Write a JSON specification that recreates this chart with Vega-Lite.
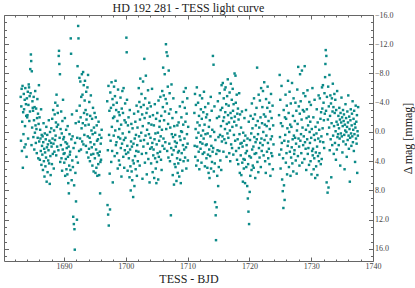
{
"$schema":"https://vega.github.io/schema/vega-lite/v6.json",
"width":369,"height":246,
"autosize":{"type":"none"},
"padding":{"left":4,"top":15,"right":42,"bottom":27},
"title":{"text":"HD 192 281 - TESS light curve","font":"Liberation Serif","fontSize":12,"fontWeight":"normal","color":"#222","offset":-4},
"config":{"view":{"stroke":"#666","strokeWidth":1},"axis":{"grid":false,"domain":false,"labelFont":"Liberation Serif","titleFont":"Liberation Serif","labelFontSize":8,"titleFontSize":12,"titleFontWeight":"normal","tickColor":"#666","labelColor":"#444","titleColor":"#222"}},
"resolve":{"axis":{"x":"independent","y":"independent"}},
"layer":[
{"data":{"values":[
{"t":1683.00,"m":-4.8},{"t":1683.05,"m":1.2},{"t":1683.10,"m":-3.5},{"t":1683.15,"m":-5.9},{"t":1683.20,"m":2.6},{"t":1683.25,"m":-1.4},{"t":1683.30,"m":-6.3},{"t":1683.35,"m":4.9},{"t":1683.40,"m":-2.7},{"t":1683.45,"m":0.3},
{"t":1683.50,"m":-5.2},{"t":1683.55,"m":-3.1},{"t":1683.60,"m":2.1},{"t":1683.65,"m":-4.4},{"t":1683.70,"m":-0.8},{"t":1683.75,"m":-6.0},{"t":1683.80,"m":1.7},{"t":1683.85,"m":-3.8},{"t":1683.90,"m":-2.2},{"t":1683.95,"m":3.4},
{"t":1684.00,"m":-4.6},{"t":1684.05,"m":-2.0},{"t":1684.10,"m":-2.3},{"t":1684.15,"m":-5.5},{"t":1684.20,"m":0.9},{"t":1684.25,"m":-3.7},{"t":1684.30,"m":-6.5},{"t":1684.35,"m":-6.1},{"t":1684.40,"m":-1.5},{"t":1684.45,"m":-4.9},
{"t":1684.50,"m":-2.8},{"t":1684.55,"m":-8.6},{"t":1684.60,"m":-5.3},{"t":1684.65,"m":-10.6},{"t":1684.70,"m":-9.7},{"t":1684.75,"m":1.8},{"t":1684.80,"m":-8.3},{"t":1684.85,"m":-0.6},{"t":1684.90,"m":-4.2},{"t":1684.95,"m":-3.3},
{"t":1685.00,"m":-2.9},{"t":1685.05,"m":0.7},{"t":1685.10,"m":-4.8},{"t":1685.15,"m":-1.6},{"t":1685.20,"m":2.4},{"t":1685.25,"m":-3.4},{"t":1685.30,"m":0.1},{"t":1685.35,"m":-5.6},{"t":1685.40,"m":-0.9},{"t":1685.45,"m":1.5},
{"t":1685.50,"m":-3.2},{"t":1685.55,"m":-0.4},{"t":1685.60,"m":2.9},{"t":1685.65,"m":-1.9},{"t":1685.70,"m":-4.5},{"t":1685.75,"m":0.8},{"t":1685.80,"m":-2.5},{"t":1685.85,"m":3.6},{"t":1685.90,"m":-1.1},{"t":1685.95,"m":-6.4},
{"t":1686.00,"m":1.3},{"t":1686.05,"m":-2.0},{"t":1686.10,"m":3.8},{"t":1686.15,"m":-0.3},{"t":1686.20,"m":0.9},{"t":1686.25,"m":2.6},{"t":1686.30,"m":-3.1},{"t":1686.35,"m":4.5},{"t":1686.40,"m":0.4},{"t":1686.45,"m":1.9},
{"t":1686.50,"m":3.1},{"t":1686.55,"m":0.6},{"t":1686.60,"m":5.2},{"t":1686.65,"m":1.4},{"t":1686.70,"m":-1.2},{"t":1686.75,"m":4.0},{"t":1686.80,"m":2.3},{"t":1686.85,"m":6.1},{"t":1686.90,"m":0.2},{"t":1686.95,"m":2.8},
{"t":1687.00,"m":4.7},{"t":1687.05,"m":1.0},{"t":1687.10,"m":3.5},{"t":1687.15,"m":-0.7},{"t":1687.20,"m":6.8},{"t":1687.25,"m":2.1},{"t":1687.30,"m":0.4},{"t":1687.35,"m":5.5},{"t":1687.40,"m":1.7},{"t":1687.45,"m":3.9},
{"t":1687.50,"m":2.5},{"t":1687.55,"m":-1.6},{"t":1687.60,"m":4.3},{"t":1687.65,"m":1.2},{"t":1687.70,"m":7.1},{"t":1687.75,"m":0.0},{"t":1687.80,"m":3.3},{"t":1687.85,"m":5.9},{"t":1687.90,"m":1.5},{"t":1687.95,"m":-0.5},
{"t":1688.00,"m":2.0},{"t":1688.05,"m":4.4},{"t":1688.10,"m":-1.8},{"t":1688.15,"m":0.9},{"t":1688.20,"m":3.0},{"t":1688.25,"m":-3.0},{"t":1688.30,"m":1.6},{"t":1688.35,"m":5.0},{"t":1688.40,"m":-0.2},{"t":1688.45,"m":2.7},
{"t":1688.50,"m":-2.4},{"t":1688.55,"m":1.1},{"t":1688.60,"m":-4.0},{"t":1688.65,"m":0.5},{"t":1688.70,"m":-1.3},{"t":1688.75,"m":3.2},{"t":1688.80,"m":-5.1},{"t":1688.85,"m":-0.7},{"t":1688.90,"m":2.0},{"t":1688.95,"m":-3.6},
{"t":1689.00,"m":-2.6},{"t":1689.05,"m":-1.0},{"t":1689.10,"m":2.5},{"t":1689.15,"m":-10.4},{"t":1689.20,"m":-11.1},{"t":1689.25,"m":-9.3},{"t":1689.30,"m":0.8},{"t":1689.35,"m":-7.9},{"t":1689.40,"m":4.1},{"t":1689.45,"m":-0.4},
{"t":1689.50,"m":1.8},{"t":1689.55,"m":-2.8},{"t":1689.60,"m":3.6},{"t":1689.65,"m":0.2},{"t":1689.70,"m":5.3},{"t":1689.75,"m":-1.5},{"t":1689.80,"m":2.4},{"t":1689.85,"m":-4.4},{"t":1689.90,"m":1.0},{"t":1689.95,"m":3.0},
{"t":1690.00,"m":0.7},{"t":1690.05,"m":4.2},{"t":1690.10,"m":2.9},{"t":1690.15,"m":-1.9},{"t":1690.20,"m":6.0},{"t":1690.25,"m":1.4},{"t":1690.30,"m":3.7},{"t":1690.35,"m":-0.3},{"t":1690.40,"m":5.1},{"t":1690.45,"m":2.2},
{"t":1690.50,"m":1.6},{"t":1690.55,"m":5.8},{"t":1690.60,"m":-0.8},{"t":1690.65,"m":3.4},{"t":1690.70,"m":7.0},{"t":1690.75,"m":2.0},{"t":1690.80,"m":8.4},{"t":1690.85,"m":4.6},{"t":1690.90,"m":0.3},{"t":1690.95,"m":3.1},
{"t":1691.00,"m":2.7},{"t":1691.05,"m":5.2},{"t":1691.10,"m":-12.8},{"t":1691.15,"m":-10.7},{"t":1691.20,"m":1.0},{"t":1691.25,"m":6.6},{"t":1691.30,"m":-2.4},{"t":1691.35,"m":3.9},{"t":1691.40,"m":0.6},{"t":1691.45,"m":4.8},
{"t":1691.50,"m":11.6},{"t":1691.55,"m":2.2},{"t":1691.60,"m":12.6},{"t":1691.65,"m":7.3},{"t":1691.70,"m":13.3},{"t":1691.75,"m":16.1},{"t":1691.80,"m":1.5},{"t":1691.85,"m":5.6},{"t":1691.90,"m":-1.2},{"t":1691.95,"m":9.5},
{"t":1692.00,"m":3.4},{"t":1692.05,"m":-2.9},{"t":1692.10,"m":12.0},{"t":1692.15,"m":0.8},{"t":1692.20,"m":-9.0},{"t":1692.25,"m":4.2},{"t":1692.30,"m":-14.5},{"t":1692.35,"m":-12.8},{"t":1692.40,"m":-1.4},{"t":1692.45,"m":2.6},
{"t":1692.50,"m":-7.4},{"t":1692.55,"m":-3.6},{"t":1692.60,"m":0.9},{"t":1692.65,"m":-6.9},{"t":1692.70,"m":-2.0},{"t":1692.75,"m":2.4},{"t":1692.80,"m":-4.8},{"t":1692.85,"m":-0.5},{"t":1692.90,"m":-7.9},{"t":1692.95,"m":1.3},
{"t":1693.00,"m":-5.1},{"t":1693.05,"m":-1.2},{"t":1693.10,"m":-8.2},{"t":1693.15,"m":1.7},{"t":1693.20,"m":-6.4},{"t":1693.25,"m":-2.6},{"t":1693.30,"m":0.4},{"t":1693.35,"m":-4.3},{"t":1693.40,"m":-7.0},{"t":1693.45,"m":-0.9},
{"t":1693.50,"m":-3.0},{"t":1693.55,"m":1.9},{"t":1693.60,"m":-5.5},{"t":1693.65,"m":-1.7},{"t":1693.70,"m":2.8},{"t":1693.75,"m":-2.4},{"t":1693.80,"m":-6.1},{"t":1693.85,"m":0.6},{"t":1693.90,"m":-7.8},{"t":1693.95,"m":3.5},
{"t":1694.00,"m":-1.0},{"t":1694.05,"m":2.3},{"t":1694.10,"m":-4.1},{"t":1694.15,"m":0.8},{"t":1694.20,"m":4.0},{"t":1694.25,"m":-2.2},{"t":1694.30,"m":1.4},{"t":1694.35,"m":-5.0},{"t":1694.40,"m":3.1},{"t":1694.45,"m":-0.2},
{"t":1694.50,"m":2.1},{"t":1694.55,"m":-1.8},{"t":1694.60,"m":4.6},{"t":1694.65,"m":0.3},{"t":1694.70,"m":-3.3},{"t":1694.75,"m":3.0},{"t":1694.80,"m":5.4},{"t":1694.85,"m":-0.6},{"t":1694.90,"m":1.7},{"t":1694.95,"m":-2.6},
{"t":1695.00,"m":3.6},{"t":1695.05,"m":0.1},{"t":1695.10,"m":5.6},{"t":1695.15,"m":-2.0},{"t":1695.20,"m":2.4},{"t":1695.25,"m":4.9},{"t":1695.30,"m":-0.9},{"t":1695.35,"m":1.2},{"t":1695.40,"m":6.0},{"t":1695.45,"m":2.9},
{"t":1695.50,"m":1.0},{"t":1695.55,"m":4.4},{"t":1695.60,"m":-1.4},{"t":1695.65,"m":3.2},{"t":1695.70,"m":5.9},{"t":1695.75,"m":0.4},{"t":1695.80,"m":2.7},{"t":1695.85,"m":8.4},{"t":1695.90,"m":4.1},{"t":1695.95,"m":1.6},{"t":1696.00,"m":3.8},{"t":1696.05,"m":0.8},{"t":1696.10,"m":-0.3},
{"t":1697.00,"m":-4.2},{"t":1697.05,"m":10.0},{"t":1697.10,"m":2.5},{"t":1697.15,"m":11.3},{"t":1697.20,"m":-6.3},{"t":1697.25,"m":12.8},{"t":1697.30,"m":0.4},{"t":1697.35,"m":-2.9},{"t":1697.40,"m":5.7},{"t":1697.45,"m":10.6},
{"t":1697.50,"m":-5.4},{"t":1697.55,"m":1.2},{"t":1697.60,"m":-3.3},{"t":1697.65,"m":4.1},{"t":1697.70,"m":-6.8},{"t":1697.75,"m":-0.7},{"t":1697.80,"m":2.6},{"t":1697.85,"m":-4.5},{"t":1697.90,"m":6.9},{"t":1697.95,"m":-1.9},
{"t":1698.00,"m":-3.7},{"t":1698.05,"m":0.5},{"t":1698.10,"m":-6.2},{"t":1698.15,"m":-2.1},{"t":1698.20,"m":3.3},{"t":1698.25,"m":-4.9},{"t":1698.30,"m":-0.2},{"t":1698.35,"m":-7.0},{"t":1698.40,"m":1.8},{"t":1698.45,"m":-3.0},
{"t":1698.50,"m":1.4},{"t":1698.55,"m":-4.0},{"t":1698.60,"m":2.9},{"t":1698.65,"m":-1.5},{"t":1698.70,"m":5.0},{"t":1698.75,"m":-5.8},{"t":1698.80,"m":0.7},{"t":1698.85,"m":-2.7},{"t":1698.90,"m":3.9},{"t":1698.95,"m":-0.4},
{"t":1699.00,"m":-2.3},{"t":1699.05,"m":4.5},{"t":1699.10,"m":0.9},{"t":1699.15,"m":-4.7},{"t":1699.20,"m":2.2},{"t":1699.25,"m":-1.0},{"t":1699.30,"m":6.1},{"t":1699.35,"m":-3.2},{"t":1699.40,"m":1.6},{"t":1699.45,"m":-5.6},
{"t":1699.50,"m":0.2},{"t":1699.55,"m":-2.6},{"t":1699.60,"m":3.4},{"t":1699.65,"m":-6.0},{"t":1699.70,"m":1.1},{"t":1699.75,"m":4.9},{"t":1699.80,"m":-1.6},{"t":1699.85,"m":2.5},{"t":1699.90,"m":-3.9},{"t":1699.95,"m":0.8},
{"t":1700.00,"m":-1.3},{"t":1700.05,"m":3.0},{"t":1700.10,"m":-12.9},{"t":1700.15,"m":-10.9},{"t":1700.20,"m":-4.4},{"t":1700.25,"m":1.9},{"t":1700.30,"m":5.3},{"t":1700.35,"m":-0.9},{"t":1700.40,"m":2.8},{"t":1700.45,"m":-2.0},
{"t":1700.50,"m":3.6},{"t":1700.55,"m":0.0},{"t":1700.60,"m":6.2},{"t":1700.65,"m":-3.0},{"t":1700.70,"m":2.4},{"t":1700.75,"m":4.7},{"t":1700.80,"m":8.0},{"t":1700.85,"m":1.3},{"t":1700.90,"m":-1.1},{"t":1700.95,"m":5.4},
{"t":1701.00,"m":2.0},{"t":1701.05,"m":6.6},{"t":1701.10,"m":-0.5},{"t":1701.15,"m":3.9},{"t":1701.20,"m":8.9},{"t":1701.25,"m":1.6},{"t":1701.30,"m":4.3},{"t":1701.35,"m":-2.5},{"t":1701.40,"m":7.4},{"t":1701.45,"m":0.9},
{"t":1701.50,"m":3.3},{"t":1701.55,"m":-1.4},{"t":1701.60,"m":5.1},{"t":1701.65,"m":0.4},{"t":1701.70,"m":2.6},{"t":1701.75,"m":-3.6},{"t":1701.80,"m":6.0},{"t":1701.85,"m":1.8},{"t":1701.90,"m":-0.6},{"t":1701.95,"m":4.0},
{"t":1702.00,"m":-2.8},{"t":1702.05,"m":2.7},{"t":1702.10,"m":-6.0},{"t":1702.15,"m":0.6},{"t":1702.20,"m":-4.1},{"t":1702.25,"m":4.6},{"t":1702.30,"m":-1.7},{"t":1702.35,"m":-7.3},{"t":1702.40,"m":1.2},{"t":1702.45,"m":-3.4},
{"t":1702.50,"m":0.1},{"t":1702.55,"m":-5.2},{"t":1702.60,"m":3.0},{"t":1702.65,"m":-2.4},{"t":1702.70,"m":6.4},{"t":1702.75,"m":-0.8},{"t":1702.80,"m":-6.9},{"t":1702.85,"m":2.0},{"t":1702.90,"m":-3.7},{"t":1702.95,"m":1.1},
{"t":1703.00,"m":-10.0},{"t":1703.05,"m":-1.9},{"t":1703.10,"m":4.2},{"t":1703.15,"m":-4.6},{"t":1703.20,"m":0.5},{"t":1703.25,"m":-7.7},{"t":1703.30,"m":2.9},{"t":1703.35,"m":-2.6},{"t":1703.40,"m":5.8},{"t":1703.45,"m":-0.3},
{"t":1703.50,"m":-3.2},{"t":1703.55,"m":1.6},{"t":1703.60,"m":-5.7},{"t":1703.65,"m":3.7},{"t":1703.70,"m":-1.2},{"t":1703.75,"m":0.3},{"t":1703.80,"m":-4.0},{"t":1703.85,"m":6.9},{"t":1703.90,"m":-2.1},{"t":1703.95,"m":2.3},
{"t":1704.00,"m":0.8},{"t":1704.05,"m":-3.5},{"t":1704.10,"m":4.3},{"t":1704.15,"m":-1.0},{"t":1704.20,"m":2.1},{"t":1704.25,"m":-5.9},{"t":1704.30,"m":1.5},{"t":1704.35,"m":5.5},{"t":1704.40,"m":-2.3},{"t":1704.45,"m":3.2},
{"t":1704.50,"m":2.4},{"t":1704.55,"m":-0.9},{"t":1704.60,"m":6.3},{"t":1704.65,"m":1.0},{"t":1704.70,"m":-3.8},{"t":1704.75,"m":3.6},{"t":1704.80,"m":0.2},{"t":1704.85,"m":5.0},{"t":1704.90,"m":-1.8},{"t":1704.95,"m":7.0},
{"t":1705.00,"m":1.7},{"t":1705.05,"m":4.1},{"t":1705.10,"m":-2.6},{"t":1705.15,"m":2.9},{"t":1705.20,"m":0.1},{"t":1705.25,"m":6.5},{"t":1705.30,"m":-4.3},{"t":1705.35,"m":3.4},{"t":1705.40,"m":1.2},{"t":1705.45,"m":-0.7},
{"t":1705.50,"m":-1.5},{"t":1705.55,"m":2.7},{"t":1705.60,"m":-4.8},{"t":1705.65,"m":0.6},{"t":1705.70,"m":3.8},{"t":1705.75,"m":-2.2},{"t":1705.80,"m":5.2},{"t":1705.85,"m":-0.3},{"t":1705.90,"m":-5.6},{"t":1705.95,"m":1.9},
{"t":1706.00,"m":-3.4},{"t":1706.05,"m":-8.8},{"t":1706.10,"m":0.9},{"t":1706.15,"m":-5.0},{"t":1706.20,"m":-1.6},{"t":1706.25,"m":2.3},{"t":1706.30,"m":-7.9},{"t":1706.35,"m":-2.8},{"t":1706.40,"m":1.4},{"t":1706.45,"m":-4.5},
{"t":1706.50,"m":-12.0},{"t":1706.55,"m":-0.4},{"t":1706.60,"m":-10.9},{"t":1706.65,"m":-3.9},{"t":1706.70,"m":2.6},{"t":1706.75,"m":-10.4},{"t":1706.80,"m":-6.2},{"t":1706.85,"m":-1.1},{"t":1706.90,"m":3.5},{"t":1706.95,"m":-8.4},
{"t":1707.00,"m":-2.5},{"t":1707.05,"m":1.6},{"t":1707.10,"m":-5.3},{"t":1707.15,"m":4.0},{"t":1707.20,"m":-0.6},{"t":1707.25,"m":-3.1},{"t":1707.30,"m":11.4},{"t":1707.35,"m":2.2},{"t":1707.40,"m":-6.5},{"t":1707.45,"m":0.3},
{"t":1707.50,"m":3.1},{"t":1707.55,"m":-1.9},{"t":1707.60,"m":5.9},{"t":1707.65,"m":0.7},{"t":1707.70,"m":-4.6},{"t":1707.75,"m":2.5},{"t":1707.80,"m":7.2},{"t":1707.85,"m":-0.8},{"t":1707.90,"m":4.4},{"t":1707.95,"m":1.3},
{"t":1708.00,"m":0.4},{"t":1708.05,"m":4.8},{"t":1708.10,"m":2.0},{"t":1708.15,"m":-2.7},{"t":1708.20,"m":6.7},{"t":1708.25,"m":1.5},{"t":1708.30,"m":3.6},{"t":1708.35,"m":-0.9},{"t":1708.40,"m":5.6},{"t":1708.45,"m":2.8},
{"t":1708.50,"m":4.3},{"t":1708.55,"m":-1.3},{"t":1708.60,"m":2.6},{"t":1708.65,"m":6.1},{"t":1708.70,"m":0.6},{"t":1708.75,"m":-3.5},{"t":1708.80,"m":3.8},{"t":1708.85,"m":1.1},{"t":1708.90,"m":7.0},{"t":1708.95,"m":-0.1},
{"t":1709.00,"m":-2.0},{"t":1709.05,"m":2.9},{"t":1709.10,"m":0.0},{"t":1709.15,"m":5.3},{"t":1709.20,"m":-4.1},{"t":1709.25,"m":1.8},{"t":1709.30,"m":-1.0},{"t":1709.35,"m":4.0},{"t":1709.40,"m":-5.5},{"t":1709.45,"m":2.4},
{"t":1709.50,"m":0.9},{"t":1709.55,"m":-3.3},{"t":1709.60,"m":3.5},{"t":1709.65,"m":-1.4},{"t":1709.70,"m":-6.0},{"t":1709.75,"m":2.1},{"t":1709.80,"m":5.0},{"t":1709.85,"m":-2.5},{"t":1709.90,"m":0.3},{"t":1709.95,"m":-4.6},{"t":1710.00,"m":1.6},{"t":1710.05,"m":3.9},{"t":1710.10,"m":-0.7},
{"t":1711.10,"m":-2.6},{"t":1711.15,"m":1.9},{"t":1711.20,"m":-5.2},{"t":1711.25,"m":3.4},{"t":1711.30,"m":-0.4},{"t":1711.35,"m":-3.7},{"t":1711.40,"m":4.6},{"t":1711.45,"m":0.8},{"t":1711.50,"m":-6.1},{"t":1711.55,"m":2.0},
{"t":1711.60,"m":-1.3},{"t":1711.65,"m":3.9},{"t":1711.70,"m":-4.0},{"t":1711.75,"m":0.1},{"t":1711.80,"m":2.7},{"t":1711.85,"m":-2.2},{"t":1711.90,"m":5.1},{"t":1711.95,"m":-0.9},{"t":1712.00,"m":-5.0},{"t":1712.05,"m":1.4},
{"t":1712.10,"m":2.3},{"t":1712.15,"m":-3.1},{"t":1712.20,"m":0.5},{"t":1712.25,"m":4.2},{"t":1712.30,"m":-1.8},{"t":1712.35,"m":-4.6},{"t":1712.40,"m":1.6},{"t":1712.45,"m":3.0},{"t":1712.50,"m":-0.2},{"t":1712.55,"m":-2.7},
{"t":1712.60,"m":0.9},{"t":1712.65,"m":-5.5},{"t":1712.70,"m":2.8},{"t":1712.75,"m":-1.0},{"t":1712.80,"m":4.7},{"t":1712.85,"m":-3.4},{"t":1712.90,"m":0.3},{"t":1712.95,"m":1.8},{"t":1713.00,"m":-2.0},{"t":1713.05,"m":3.6},
{"t":1713.10,"m":1.7},{"t":1713.15,"m":-2.4},{"t":1713.20,"m":4.9},{"t":1713.25,"m":0.2},{"t":1713.30,"m":3.1},{"t":1713.35,"m":-3.9},{"t":1713.40,"m":5.6},{"t":1713.45,"m":-0.7},{"t":1713.50,"m":2.4},{"t":1713.55,"m":6.3},
{"t":1713.60,"m":-1.6},{"t":1713.65,"m":3.3},{"t":1713.70,"m":0.6},{"t":1713.75,"m":-4.8},{"t":1713.80,"m":5.0},{"t":1713.85,"m":1.9},{"t":1713.90,"m":-2.9},{"t":1713.95,"m":4.1},{"t":1714.00,"m":-0.3},{"t":1714.05,"m":2.7},
{"t":1714.10,"m":-10.4},{"t":1714.15,"m":2.2},{"t":1714.20,"m":-9.2},{"t":1714.25,"m":5.4},{"t":1714.30,"m":0.0},{"t":1714.35,"m":-3.5},{"t":1714.40,"m":4.3},{"t":1714.45,"m":9.6},{"t":1714.50,"m":1.1},{"t":1714.55,"m":11.4},
{"t":1714.60,"m":14.8},{"t":1714.65,"m":3.0},{"t":1714.70,"m":10.3},{"t":1714.75,"m":-1.9},{"t":1714.80,"m":6.0},{"t":1714.85,"m":2.5},{"t":1714.90,"m":-4.2},{"t":1714.95,"m":7.4},{"t":1715.00,"m":0.7},{"t":1715.05,"m":4.8},
{"t":1715.10,"m":-2.1},{"t":1715.15,"m":2.6},{"t":1715.20,"m":-5.3},{"t":1715.25,"m":0.4},{"t":1715.30,"m":3.9},{"t":1715.35,"m":-3.0},{"t":1715.40,"m":-0.8},{"t":1715.45,"m":5.2},{"t":1715.50,"m":-6.4},{"t":1715.55,"m":1.3},
{"t":1715.60,"m":-3.3},{"t":1715.65,"m":0.6},{"t":1715.70,"m":-6.7},{"t":1715.75,"m":-1.5},{"t":1715.80,"m":2.7},{"t":1715.85,"m":-4.6},{"t":1715.90,"m":-2.0},{"t":1715.95,"m":1.0},{"t":1716.00,"m":-5.8},{"t":1716.05,"m":-0.4},
{"t":1716.10,"m":-2.7},{"t":1716.15,"m":-6.1},{"t":1716.20,"m":1.5},{"t":1716.25,"m":-3.8},{"t":1716.30,"m":3.4},{"t":1716.35,"m":-1.1},{"t":1716.40,"m":-4.9},{"t":1716.45,"m":0.2},{"t":1716.50,"m":-7.2},{"t":1716.55,"m":-2.3},
{"t":1716.60,"m":0.8},{"t":1716.65,"m":-3.6},{"t":1716.70,"m":-1.3},{"t":1716.75,"m":2.9},{"t":1716.80,"m":-5.4},{"t":1716.85,"m":-0.2},{"t":1716.90,"m":4.0},{"t":1716.95,"m":-2.6},{"t":1717.00,"m":-6.6},{"t":1717.05,"m":1.7},
{"t":1717.10,"m":-1.9},{"t":1717.15,"m":-4.4},{"t":1717.20,"m":2.2},{"t":1717.25,"m":-0.7},{"t":1717.30,"m":-5.9},{"t":1717.35,"m":-2.9},{"t":1717.40,"m":3.1},{"t":1717.45,"m":-3.8},{"t":1717.50,"m":0.4},{"t":1717.55,"m":-1.4},
{"t":1717.60,"m":-8.0},{"t":1717.65,"m":-2.1},{"t":1717.70,"m":1.2},{"t":1717.75,"m":-7.7},{"t":1717.80,"m":-4.0},{"t":1717.85,"m":2.6},{"t":1717.90,"m":-0.9},{"t":1717.95,"m":-5.1},{"t":1718.00,"m":3.8},{"t":1718.05,"m":-2.5},
{"t":1718.10,"m":1.0},{"t":1718.15,"m":-3.2},{"t":1718.20,"m":4.4},{"t":1718.25,"m":-1.7},{"t":1718.30,"m":2.2},{"t":1718.35,"m":-5.3},{"t":1718.40,"m":0.3},{"t":1718.45,"m":5.6},{"t":1718.50,"m":-2.4},{"t":1718.55,"m":1.6},
{"t":1718.60,"m":3.2},{"t":1718.65,"m":-0.6},{"t":1718.70,"m":5.9},{"t":1718.75,"m":1.5},{"t":1718.80,"m":-2.8},{"t":1718.85,"m":4.2},{"t":1718.90,"m":2.0},{"t":1718.95,"m":6.8},{"t":1719.00,"m":0.1},{"t":1719.05,"m":3.7},
{"t":1719.10,"m":5.0},{"t":1719.15,"m":1.2},{"t":1719.20,"m":-1.9},{"t":1719.25,"m":3.8},{"t":1719.30,"m":7.0},{"t":1719.35,"m":0.5},{"t":1719.40,"m":2.9},{"t":1719.45,"m":-3.0},{"t":1719.50,"m":4.8},{"t":1719.55,"m":1.8},
{"t":1719.60,"m":2.6},{"t":1719.65,"m":7.4},{"t":1719.70,"m":0.9},{"t":1719.75,"m":9.1},{"t":1719.80,"m":4.4},{"t":1719.85,"m":10.9},{"t":1719.90,"m":-1.4},{"t":1719.95,"m":12.6},{"t":1720.00,"m":3.3},{"t":1720.05,"m":8.2},
{"t":1720.10,"m":1.1},{"t":1720.15,"m":6.0},{"t":1720.20,"m":-2.2},{"t":1720.25,"m":3.5},{"t":1720.30,"m":0.2},{"t":1720.35,"m":5.2},{"t":1720.40,"m":-3.9},{"t":1720.45,"m":2.4},{"t":1720.50,"m":-0.5},{"t":1720.55,"m":4.6},
{"t":1720.60,"m":-1.8},{"t":1720.65,"m":2.0},{"t":1720.70,"m":4.9},{"t":1720.75,"m":-4.6},{"t":1720.80,"m":0.7},{"t":1720.85,"m":3.0},{"t":1720.90,"m":-2.4},{"t":1720.95,"m":6.3},{"t":1721.00,"m":1.4},{"t":1721.05,"m":-0.9},
{"t":1721.10,"m":2.9},{"t":1721.15,"m":-3.3},{"t":1721.20,"m":1.0},{"t":1721.25,"m":-8.8},{"t":1721.30,"m":4.1},{"t":1721.35,"m":-1.5},{"t":1721.40,"m":0.3},{"t":1721.45,"m":5.5},{"t":1721.50,"m":-5.1},{"t":1721.55,"m":2.2},
{"t":1721.60,"m":-0.6},{"t":1721.65,"m":3.5},{"t":1721.70,"m":-4.3},{"t":1721.75,"m":1.5},{"t":1721.80,"m":-2.0},{"t":1721.85,"m":4.8},{"t":1721.90,"m":-6.0},{"t":1721.95,"m":0.9},{"t":1722.00,"m":2.6},{"t":1722.05,"m":-1.2},
{"t":1722.10,"m":-3.4},{"t":1722.15,"m":1.8},{"t":1722.20,"m":-5.6},{"t":1722.25,"m":0.0},{"t":1722.30,"m":3.2},{"t":1722.35,"m":-2.4},{"t":1722.40,"m":-6.8},{"t":1722.45,"m":1.1},{"t":1722.50,"m":-1.0},{"t":1722.55,"m":4.0},
{"t":1722.60,"m":-2.1},{"t":1722.65,"m":5.6},{"t":1722.70,"m":-4.5},{"t":1722.75,"m":0.5},{"t":1722.80,"m":-0.8},{"t":1722.85,"m":2.7},{"t":1722.90,"m":-3.3},{"t":1722.95,"m":-6.2},{"t":1723.00,"m":1.5},{"t":1723.05,"m":3.6},
{"t":1723.10,"m":-1.5},{"t":1723.15,"m":2.3},{"t":1723.20,"m":-4.0},{"t":1723.25,"m":4.4},{"t":1723.30,"m":-0.4},{"t":1723.35,"m":-2.8},{"t":1723.40,"m":6.0},{"t":1723.45,"m":1.0},{"t":1723.50,"m":-5.2},{"t":1723.55,"m":2.9},{"t":1723.60,"m":-1.9},{"t":1723.65,"m":0.6},{"t":1723.70,"m":3.3},{"t":1723.75,"m":-3.6},{"t":1723.80,"m":5.1},{"t":1723.85,"m":-0.9},{"t":1723.90,"m":1.7},
{"t":1724.80,"m":-2.3},{"t":1724.85,"m":3.1},{"t":1724.90,"m":-7.8},{"t":1724.95,"m":0.7},{"t":1725.00,"m":-4.4},{"t":1725.05,"m":5.0},{"t":1725.10,"m":-1.2},{"t":1725.15,"m":2.4},{"t":1725.20,"m":-6.3},{"t":1725.25,"m":1.5},
{"t":1725.30,"m":6.5},{"t":1725.35,"m":-0.8},{"t":1725.40,"m":8.1},{"t":1725.45,"m":3.6},{"t":1725.50,"m":10.4},{"t":1725.55,"m":-3.0},{"t":1725.60,"m":7.3},{"t":1725.65,"m":1.2},{"t":1725.70,"m":9.3},{"t":1725.75,"m":-2.0},
{"t":1725.80,"m":0.4},{"t":1725.85,"m":-5.1},{"t":1725.90,"m":4.2},{"t":1725.95,"m":-1.8},{"t":1726.00,"m":2.9},{"t":1726.05,"m":-3.6},{"t":1726.10,"m":5.8},{"t":1726.15,"m":-0.5},{"t":1726.20,"m":1.9},{"t":1726.25,"m":-7.0},
{"t":1726.30,"m":1.3},{"t":1726.35,"m":-2.6},{"t":1726.40,"m":4.8},{"t":1726.45,"m":0.0},{"t":1726.50,"m":-5.5},{"t":1726.55,"m":2.7},{"t":1726.60,"m":-1.0},{"t":1726.65,"m":6.0},{"t":1726.70,"m":-3.9},{"t":1726.75,"m":3.5},
{"t":1726.80,"m":-0.7},{"t":1726.85,"m":2.1},{"t":1726.90,"m":-6.7},{"t":1726.95,"m":4.3},{"t":1727.00,"m":1.0},{"t":1727.05,"m":-2.2},{"t":1727.10,"m":5.4},{"t":1727.15,"m":-4.6},{"t":1727.20,"m":0.5},{"t":1727.25,"m":3.0},
{"t":1727.30,"m":2.5},{"t":1727.35,"m":-1.5},{"t":1727.40,"m":0.8},{"t":1727.45,"m":-4.0},{"t":1727.50,"m":3.9},{"t":1727.55,"m":1.6},{"t":1727.60,"m":-2.9},{"t":1727.65,"m":5.7},{"t":1727.70,"m":-0.2},{"t":1727.75,"m":-5.8},
{"t":1727.80,"m":-1.1},{"t":1727.85,"m":3.3},{"t":1727.90,"m":-8.9},{"t":1727.95,"m":0.9},{"t":1728.00,"m":-3.5},{"t":1728.05,"m":2.0},{"t":1728.10,"m":4.6},{"t":1728.15,"m":-2.5},{"t":1728.20,"m":-7.9},{"t":1728.25,"m":1.2},
{"t":1728.30,"m":-4.2},{"t":1728.35,"m":0.3},{"t":1728.40,"m":2.9},{"t":1728.45,"m":-1.7},{"t":1728.50,"m":-8.4},{"t":1728.55,"m":4.2},{"t":1728.60,"m":-0.6},{"t":1728.65,"m":-3.0},{"t":1728.70,"m":1.8},{"t":1728.75,"m":-5.3},
{"t":1728.80,"m":0.6},{"t":1728.85,"m":-2.8},{"t":1728.90,"m":3.7},{"t":1728.95,"m":-9.0},{"t":1729.00,"m":1.4},{"t":1729.05,"m":-4.9},{"t":1729.10,"m":2.3},{"t":1729.15,"m":-0.3},{"t":1729.20,"m":5.2},{"t":1729.25,"m":-1.9},
{"t":1729.30,"m":-3.1},{"t":1729.35,"m":1.0},{"t":1729.40,"m":-5.7},{"t":1729.45,"m":3.0},{"t":1729.50,"m":-0.9},{"t":1729.55,"m":2.2},{"t":1729.60,"m":-2.1},{"t":1729.65,"m":4.5},{"t":1729.70,"m":-4.1},{"t":1729.75,"m":0.0},
{"t":1729.80,"m":1.5},{"t":1729.85,"m":-1.4},{"t":1729.90,"m":4.0},{"t":1729.95,"m":-3.7},{"t":1730.00,"m":0.8},{"t":1730.05,"m":5.8},{"t":1730.10,"m":-0.4},{"t":1730.15,"m":2.6},{"t":1730.20,"m":-6.0},{"t":1730.25,"m":3.2},
{"t":1730.30,"m":2.3},{"t":1730.35,"m":-2.0},{"t":1730.40,"m":5.1},{"t":1730.45,"m":0.4},{"t":1730.50,"m":3.6},{"t":1730.55,"m":-4.4},{"t":1730.60,"m":1.1},{"t":1730.65,"m":6.3},{"t":1730.70,"m":-0.7},{"t":1730.75,"m":2.8},
{"t":1730.80,"m":4.7},{"t":1730.85,"m":0.2},{"t":1730.90,"m":-3.1},{"t":1730.95,"m":2.0},{"t":1731.00,"m":5.9},{"t":1731.05,"m":-1.3},{"t":1731.10,"m":3.3},{"t":1731.15,"m":0.9},{"t":1731.20,"m":-5.0},{"t":1731.25,"m":4.0},
{"t":1731.30,"m":-0.3},{"t":1731.35,"m":2.9},{"t":1731.40,"m":-4.6},{"t":1731.45,"m":1.3},{"t":1731.50,"m":-1.8},{"t":1731.55,"m":4.4},{"t":1731.60,"m":-2.7},{"t":1731.65,"m":0.6},{"t":1731.70,"m":3.7},{"t":1731.75,"m":-6.1},
{"t":1731.80,"m":-3.2},{"t":1731.85,"m":-0.5},{"t":1731.90,"m":-6.4},{"t":1731.95,"m":1.4},{"t":1732.00,"m":-4.0},{"t":1732.05,"m":-1.6},{"t":1732.10,"m":2.2},{"t":1732.15,"m":-5.3},{"t":1732.20,"m":-2.5},{"t":1732.25,"m":-7.5},
{"t":1732.30,"m":-9.3},{"t":1732.35,"m":-11.2},{"t":1732.40,"m":-2.9},{"t":1732.45,"m":-10.4},{"t":1732.50,"m":6.9},{"t":1732.55,"m":-4.8},{"t":1732.60,"m":0.3},{"t":1732.65,"m":8.3},{"t":1732.70,"m":-1.7},{"t":1732.75,"m":-6.2},
{"t":1732.80,"m":7.6},{"t":1732.85,"m":-3.5},{"t":1732.90,"m":-0.6},{"t":1732.95,"m":-7.8},{"t":1733.00,"m":2.5},{"t":1733.05,"m":-2.2},{"t":1733.10,"m":-5.0},{"t":1733.15,"m":1.0},{"t":1733.20,"m":-3.9},{"t":1733.25,"m":6.2},
{"t":1733.30,"m":-1.2},{"t":1733.35,"m":-4.6},{"t":1733.40,"m":1.8},{"t":1733.45,"m":-2.8},{"t":1733.50,"m":-6.6},{"t":1733.55,"m":0.5},{"t":1733.60,"m":-3.4},{"t":1733.65,"m":3.0},{"t":1733.70,"m":-0.8},{"t":1733.75,"m":-5.2},
{"t":1733.80,"m":-2.6},{"t":1733.85,"m":1.5},{"t":1733.90,"m":-4.4},{"t":1733.95,"m":-0.1},{"t":1734.00,"m":3.8},{"t":1734.05,"m":-3.0},{"t":1734.10,"m":-1.4},{"t":1734.15,"m":2.4},{"t":1734.20,"m":-5.6},{"t":1734.25,"m":0.7},
{"t":1734.30,"m":-1.0},{"t":1734.35,"m":0.3},{"t":1734.40,"m":-2.2},{"t":1734.45,"m":1.8},{"t":1734.50,"m":-0.5},{"t":1734.55,"m":-3.3},{"t":1734.60,"m":0.9},{"t":1734.65,"m":-1.7},{"t":1734.70,"m":4.6},{"t":1734.75,"m":-2.6},
{"t":1734.80,"m":0.2},{"t":1734.85,"m":-1.3},{"t":1734.90,"m":-4.7},{"t":1734.95,"m":0.6},{"t":1735.00,"m":-2.0},{"t":1735.05,"m":2.8},{"t":1735.10,"m":-0.8},{"t":1735.15,"m":-3.0},{"t":1735.20,"m":1.3},{"t":1735.25,"m":-1.5},
{"t":1735.30,"m":-2.4},{"t":1735.35,"m":0.4},{"t":1735.40,"m":5.1},{"t":1735.45,"m":-1.0},{"t":1735.50,"m":-0.2},{"t":1735.55,"m":-3.8},{"t":1735.60,"m":1.7},{"t":1735.65,"m":-1.9},{"t":1735.70,"m":0.0},{"t":1735.75,"m":3.4},
{"t":1735.80,"m":-0.7},{"t":1735.85,"m":-2.8},{"t":1735.90,"m":1.1},{"t":1735.95,"m":-1.3},{"t":1736.00,"m":-5.0},{"t":1736.05,"m":0.5},{"t":1736.10,"m":2.3},{"t":1736.15,"m":-2.1},{"t":1736.20,"m":-0.4},{"t":1736.25,"m":6.8},
{"t":1736.30,"m":0.8},{"t":1736.35,"m":-1.6},{"t":1736.40,"m":-3.1},{"t":1736.45,"m":0.2},{"t":1736.50,"m":1.9},{"t":1736.55,"m":-0.9},{"t":1736.60,"m":-2.5},{"t":1736.65,"m":0.6},{"t":1736.70,"m":-4.2},{"t":1736.75,"m":1.4},
{"t":1736.80,"m":-0.3},{"t":1736.85,"m":-1.8},{"t":1736.90,"m":2.6},{"t":1736.95,"m":-2.9},{"t":1737.00,"m":0.3},{"t":1737.05,"m":-1.1},{"t":1737.10,"m":4.1},{"t":1737.15,"m":-0.6},{"t":1737.20,"m":-3.6},{"t":1737.25,"m":0.9},
{"t":1737.30,"m":-1.4},{"t":1737.35,"m":1.6},{"t":1737.40,"m":-2.3},{"t":1737.45,"m":5.6},{"t":1737.50,"m":-0.1},{"t":1737.55,"m":0.5},{"t":1737.60,"m":-3.4}
]},
"mark":{"type":"square","size":6,"color":"#0b8a88","opacity":1},
"encoding":{
"x":{"field":"t","type":"quantitative","scale":{"domain":[1680.3,1740],"nice":false,"zero":false},"axis":{"orient":"bottom","values":[1690,1700,1710,1720,1730,1740],"format":"d","tickSize":-4,"tickColor":"#666","labelPadding":5,"labelFlush":false,"title":"TESS - BJD","titlePadding":3}},
"y":{"field":"m","type":"quantitative","scale":{"domain":[-16,17.65],"reverse":true,"nice":false,"zero":false},"axis":{"orient":"right","values":[-16,-12,-8,-4,0,4,8,12,16],"format":".1f","tickSize":-4.5,"labelPadding":6,"labelFlush":false,"title":"Δ mag [mmag]","titleAngle":-90,"titleBaseline":"top","titlePadding":9}}
}},
{"data":{"values":[{"t":1700,"m":0}]},"mark":{"type":"point","opacity":0},
"encoding":{
"x":{"field":"t","type":"quantitative","axis":{"orient":"bottom","values":[1682,1684,1686,1688,1692,1694,1696,1698,1702,1704,1706,1708,1712,1714,1716,1718,1722,1724,1726,1728,1732,1734,1736,1738],"labels":false,"tickSize":-2,"title":null}},
"y":{"field":"m","type":"quantitative","axis":{"orient":"right","values":[-15,-14,-13,-11,-10,-9,-7,-6,-5,-3,-2,-1,1,2,3,5,6,7,9,10,11,13,14,15,17],"labels":false,"tickSize":-2.5,"title":null}}
}},
{"data":{"values":[{"t":1700,"m":0}]},"mark":{"type":"point","opacity":0},
"encoding":{
"x":{"field":"t","type":"quantitative","axis":{"orient":"top","values":[1690,1700,1710,1720,1730,1740],"labels":false,"tickSize":-4,"title":null}},
"y":{"field":"m","type":"quantitative","axis":{"orient":"left","values":[-16,-12,-8,-4,0,4,8,12,16],"labels":false,"tickSize":-4.5,"title":null}}
}},
{"data":{"values":[{"t":1700,"m":0}]},"mark":{"type":"point","opacity":0},
"encoding":{
"x":{"field":"t","type":"quantitative","axis":{"orient":"top","values":[1682,1684,1686,1688,1692,1694,1696,1698,1702,1704,1706,1708,1712,1714,1716,1718,1722,1724,1726,1728,1732,1734,1736,1738],"labels":false,"tickSize":-2,"title":null}},
"y":{"field":"m","type":"quantitative","axis":{"orient":"left","values":[-15,-14,-13,-11,-10,-9,-7,-6,-5,-3,-2,-1,1,2,3,5,6,7,9,10,11,13,14,15,17],"labels":false,"tickSize":-2.5,"title":null}}
}}
]
}
